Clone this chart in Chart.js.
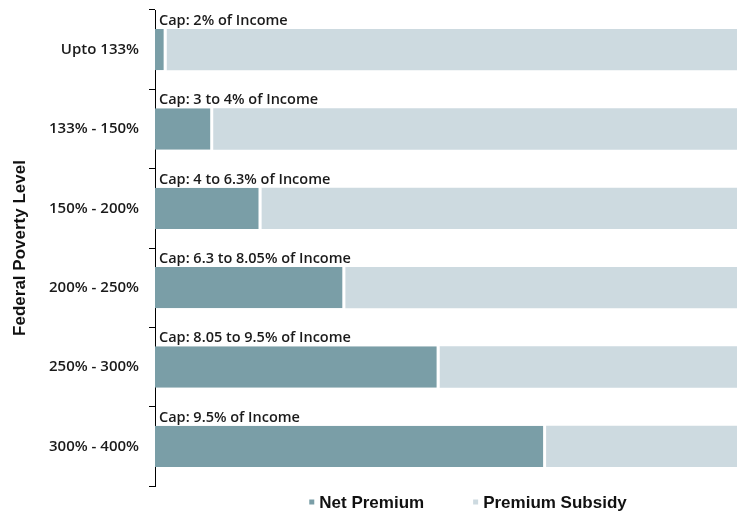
<!DOCTYPE html>
<html>
<head>
<meta charset="utf-8">
<script src="https://cdn.jsdelivr.net/npm/chart.js@4/dist/chart.umd.min.js"></script>
<style>
  html, body { margin: 0; padding: 0; background: #ffffff; }
  #wrap { width: 737px; height: 516px; position: relative; }
</style>
</head>
<body>
<div id="wrap"><canvas id="c" width="737" height="516"></canvas></div>
<script>
const categories = ["Upto 133%", "133% - 150%", "150% - 200%", "200% - 250%", "250% - 300%", "300% - 400%"];
const netPremium = [2.0, 10.0, 18.3, 32.7, 48.9, 67.2];
const premiumSubsidy = [98.0, 90.0, 81.7, 67.3, 51.1, 32.8];
const capLabels = ["Cap: 2% of Income", "Cap: 3 to 4% of Income", "Cap: 4 to 6.3% of Income",
  "Cap: 6.3 to 8.05% of Income", "Cap: 8.05 to 9.5% of Income", "Cap: 9.5% of Income"];
const seriesNames = ["Net Premium", "Premium Subsidy"];
const axisTitle = "Federal Poverty Level";

const DARK = "#7a9ea7";
const LIGHT = "#cddae0";

const capPlugin = {
  id: 'capLabels',
  afterDatasetsDraw(chart) {
    const ctx = chart.ctx;
    const meta = chart.getDatasetMeta(0);
    ctx.save();
    ctx.font = "600 14.5px 'Open Sans'";
    ctx.fillStyle = "#1a1a1a";
    ctx.textAlign = "left";
    ctx.textBaseline = "alphabetic";
    meta.data.forEach((bar, i) => {
      const top = bar.y - bar.height / 2;
      ctx.fillText(capLabels[i], chart.chartArea.left + 4, top - 4);
    });
    ctx.restore();
  }
};

const legendPlugin = {
  id: 'customLegend',
  afterDraw(chart) {
    const ctx = chart.ctx;
    ctx.save();
    ctx.font = "bold 17px 'Liberation Sans', Arial, sans-serif";
    ctx.textBaseline = "middle";
    const box = 5, gap = 5, itemGap = 49;
    const items = chart.data.datasets.map(d => ({ label: d.label, color: d.backgroundColor, w: ctx.measureText(d.label).width }));
    let total = items.reduce((s, it) => s + box + gap + it.w, 0) + itemGap * (items.length - 1);
    const cx = (chart.chartArea.left + chart.chartArea.right) / 2 + 22;
    let x = cx - total / 2;
    const y = 502;
    items.forEach(it => {
      ctx.fillStyle = it.color;
      ctx.fillRect(x, y - box / 2, box, box);
      ctx.fillStyle = "#111111";
      ctx.fillText(it.label, x + box + gap, y + 1);
      x += box + gap + it.w + itemGap;
    });
    ctx.restore();
  }
};

new Chart(document.getElementById('c'), {
  type: 'bar',
  data: {
    labels: categories,
    datasets: [
      { label: seriesNames[0], data: netPremium, backgroundColor: DARK,
        borderColor: "#ffffff", borderWidth: { left: 0, top: 0, bottom: 0, right: 3 }, borderSkipped: false },
      { label: seriesNames[1], data: premiumSubsidy, backgroundColor: LIGHT, borderWidth: 0 }
    ]
  },
  options: {
    indexAxis: 'y',
    responsive: false,
    animation: false,
    layout: { padding: { top: 10, bottom: 30, right: 0, left: 0 } },
    plugins: { legend: { display: false }, tooltip: { enabled: false } },
    datasets: { bar: { barPercentage: 0.52, categoryPercentage: 1.0 } },
    scales: {
      x: { display: false, stacked: true, min: 0, max: 100 },
      y: {
        stacked: true,
        grid: { drawOnChartArea: false, drawTicks: true, tickLength: 6, color: "#000000", offset: true },
        border: { display: true, color: "#000000", width: 1 },
        ticks: { color: "#1a1a1a", padding: 10, font: { family: "'Open Sans'", size: 15, weight: '600' } },
        title: { display: true, text: axisTitle, color: "#111111", padding: { top: 10, bottom: 0 },
          font: { family: "'Liberation Sans', Arial, sans-serif", size: 17, weight: 'bold' } },
        afterFit(scale) { scale.width = 155; scale.paddingTop = 0; scale.paddingBottom = 0; }
      }
    }
  },
  plugins: [capPlugin, legendPlugin]
});
</script>
</body>
</html>
